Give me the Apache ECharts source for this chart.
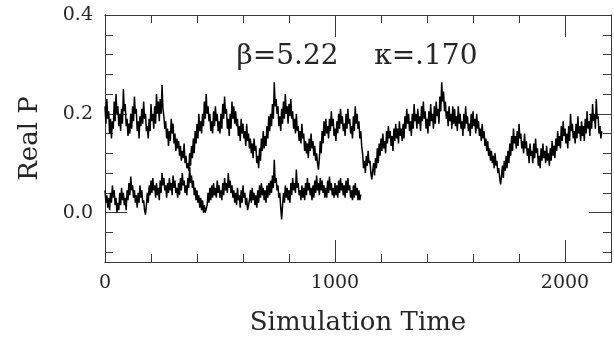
<!DOCTYPE html>
<html>
<head>
<meta charset="utf-8">
<script src="https://cdn.jsdelivr.net/npm/echarts@6/dist/echarts.min.js"></script>
<style>
  html, body { margin: 0; padding: 0; background: #fff; }
  #chart { width: 614px; height: 341px; }
</style>
</head>
<body>
<div id="chart"></div>
<script>
// sampling step of the simulation time (units)
var STEP = 4;

var xLabelTicks = [0, 1000, 2000];
var yLabelTicks = [0, 0.2, 0.4];
var yMinorTicks = [-0.08, -0.04, 0.04, 0.08, 0.12, 0.16, 0.24, 0.28, 0.32, 0.36];

// upper run, t = 0 .. 2160
var upperP = [
  .215, .18, .23, .19, .205, .16, .19, .15, .185, .17, .225, .185, .24, .2, .215, .175, .2, .165, .21, .18,
  .25, .205, .22, .175, .19, .155, .18, .16, .2, .17, .215, .185, .235, .2, .21, .165, .185, .15, .195, .175,
  .21, .18, .225, .19, .2, .165, .175, .15, .19, .165, .22, .185, .2, .17, .215, .18, .24, .2, .225, .185,
  .23, .2, .258, .21, .195, .17, .185, .15, .17, .135, .165, .145, .19, .16, .18, .14, .16, .125, .15, .13,
  .145, .115, .135, .105, .125, .11, .14, .1, .115, .09, .1, .085, .12, .095, .135, .11, .15, .12, .165, .14,
  .18, .15, .2, .165, .185, .16, .2, .175, .225, .19, .24, .2, .215, .185, .2, .165, .185, .16, .205, .175,
  .215, .185, .2, .165, .185, .16, .2, .17, .22, .19, .235, .2, .21, .17, .19, .155, .2, .17, .225, .19,
  .215, .18, .205, .175, .19, .155, .175, .145, .19, .16, .18, .15, .165, .135, .18, .145, .16, .13, .15, .12,
  .14, .11, .15, .125, .135, .1, .115, .09, .13, .105, .15, .125, .165, .13, .155, .135, .175, .15, .195, .165,
  .2, .175, .22, .19, .264, .215, .23, .2, .215, .175, .195, .165, .21, .18, .225, .19, .24, .2, .215, .18,
  .22, .195, .23, .19, .205, .17, .19, .16, .2, .165, .175, .145, .165, .14, .18, .15, .16, .125, .145, .12,
  .14, .11, .15, .125, .16, .13, .145, .115, .135, .105, .12, .1, .087, .11, .145, .12, .165, .14, .185, .155,
  .19, .16, .175, .15, .19, .165, .205, .175, .19, .155, .17, .145, .185, .16, .2, .17, .21, .18, .195, .165,
  .18, .155, .2, .17, .21, .18, .19, .16, .175, .15, .195, .165, .215, .18, .2, .17, .185, .15, .165, .135,
  .12, .09, .105, .08, .115, .095, .125, .1, .105, .08, .067, .085, .1, .075, .11, .09, .13, .1, .14, .115,
  .15, .125, .16, .13, .145, .12, .165, .14, .175, .15, .165, .135, .155, .125, .17, .145, .18, .15, .17, .14,
  .185, .155, .17, .145, .18, .15, .195, .17, .21, .18, .2, .165, .185, .155, .2, .17, .22, .185, .2, .17,
  .21, .18, .195, .165, .215, .185, .225, .19, .205, .17, .19, .16, .205, .175, .22, .185, .2, .17, .215, .18,
  .225, .195, .21, .18, .235, .205, .264, .225, .245, .205, .225, .19, .205, .175, .215, .185, .2, .17, .215, .18,
  .21, .175, .195, .165, .215, .18, .2, .17, .185, .155, .2, .17, .215, .18, .195, .165, .18, .155, .2, .17,
  .205, .175, .19, .16, .2, .17, .185, .155, .17, .145, .18, .15, .165, .135, .15, .125, .145, .115, .13, .105,
  .125, .1, .115, .09, .12, .095, .105, .08, .09, .07, .057, .075, .095, .07, .105, .085, .115, .09, .125, .1,
  .14, .115, .155, .125, .17, .14, .155, .13, .165, .135, .18, .15, .16, .13, .145, .12, .16, .13, .145, .115,
  .13, .1, .14, .115, .125, .1, .14, .11, .15, .12, .13, .095, .115, .09, .13, .105, .14, .11, .125, .1,
  .135, .105, .12, .095, .13, .105, .145, .115, .135, .11, .15, .125, .165, .135, .155, .13, .175, .145, .185, .155,
  .17, .14, .16, .13, .175, .145, .2, .165, .18, .15, .165, .14, .18, .15, .195, .16, .175, .145, .185, .155,
  .175, .145, .19, .16, .205, .17, .185, .155, .2, .17, .22, .185, .2, .17, .23, .19, .195, .16, .175, .15,
  .165
];

// lower run, t = 0 .. 1112
var lowerP = [
  .045, .02, .035, .01, .03, .005, .04, .02, .055, .03, .045, .015, .03, .0, .02, .005, .04, .015, .05, .025,
  .04, .015, .03, .005, .045, .025, .06, .035, .073, .045, .055, .03, .045, .02, .035, .01, .04, .02, .055, .03,
  .045, .02, .025, .005, -.004, .015, .04, .02, .055, .035, .065, .04, .07, .045, .055, .03, .06, .035, .05, .025,
  .065, .04, .08, .055, .07, .045, .055, .03, .06, .04, .07, .045, .06, .035, .075, .05, .065, .04, .05, .03,
  .06, .035, .07, .045, .08, .055, .065, .04, .055, .035, .07, .05, .093, .06, .075, .05, .065, .035, .05, .025,
  .045, .02, .035, .01, .03, .005, .025, .0, .015, .0, -.004, .015, .04, .02, .05, .025, .055, .03, .06, .035,
  .05, .03, .065, .04, .055, .03, .045, .025, .06, .035, .07, .045, .06, .04, .08, .05, .065, .04, .055, .03,
  .045, .02, .04, .015, .05, .025, .035, .01, .045, .02, .055, .03, .04, .015, .03, .005, .015, .025, .045, .02,
  .05, .025, .04, .015, .035, .01, .045, .02, .055, .03, .06, .035, .05, .025, .045, .02, .055, .03, .06, .035,
  .065, .04, .075, .05, .107, .06, .07, .045, .055, .03, .04, .01, -.014, .015, .04, .02, .055, .03, .05, .025,
  .045, .02, .06, .035, .07, .045, .06, .04, .087, .05, .06, .035, .045, .025, .055, .03, .05, .025, .06, .035,
  .07, .045, .06, .035, .05, .025, .055, .03, .065, .04, .075, .045, .06, .035, .07, .045, .065, .04, .055, .03,
  .05, .03, .065, .04, .073, .045, .06, .035, .05, .03, .06, .035, .055, .03, .065, .04, .07, .045, .06, .035,
  .055, .03, .065, .04, .07, .045, .055, .03, .045, .025, .055, .03, .06, .035, .05, .025, .045, .025, .037
];

var FONT = 'DejaVu Serif';
var INK = '#262626';
var frame = { color: '#3a3a3a', width: 1 };

function toPairs(vals) {
  return vals.map(function (v, i) { return [i * STEP, v]; });
}

function xAxisDef(pos, interval, tickLen, withLabels) {
  return {
    type: 'value', position: pos, min: 0, max: 2200, interval: interval,
    axisLine: { show: true, onZero: false, lineStyle: frame },
    axisTick: { show: true, inside: true, length: tickLen, lineStyle: frame },
    axisLabel: withLabels ? {
      show: true, margin: 12, fontFamily: FONT, fontSize: 19, color: INK,
      formatter: function (v) { return xLabelTicks.indexOf(v) >= 0 ? String(v) : ''; }
    } : { show: false },
    splitLine: { show: false }
  };
}

function yAxisDef(pos, ticks, tickLen, withLabels) {
  var a = {
    type: 'value', position: pos, min: -0.1, max: 0.4,
    axisLine: { show: true, onZero: false, lineStyle: frame },
    axisTick: { show: true, inside: true, length: tickLen, lineStyle: frame, customValues: ticks },
    axisLabel: { show: false },
    splitLine: { show: false }
  };
  if (withLabels) {
    a.axisLabel = {
      show: true, margin: 12, fontFamily: FONT, fontSize: 19, color: INK,
      customValues: yLabelTicks,
      formatter: function (v) { return v.toFixed(1); }
    };
    a.name = 'Real P';
    a.nameLocation = 'middle';
    a.nameRotate = 90;
    a.nameGap = 62;
    a.nameTextStyle = { fontFamily: FONT, fontSize: 26, color: INK };
  }
  return a;
}

var chart = echarts.init(document.getElementById('chart'), null, { renderer: 'canvas' });

var xMain = xAxisDef('bottom', 200, 8, true);
xMain.name = 'Simulation Time';
xMain.nameLocation = 'middle';
xMain.nameGap = 48;
xMain.nameTextStyle = { fontFamily: FONT, fontSize: 26, color: INK };

chart.setOption({
  animation: false,
  backgroundColor: '#fff',
  grid: { left: 105, top: 15, width: 506, height: 247 },
  xAxis: [
    xMain,
    xAxisDef('bottom', 1000, 22, false),
    xAxisDef('top', 200, 8, false),
    xAxisDef('top', 1000, 22, false)
  ],
  yAxis: [
    yAxisDef('left', yMinorTicks, 8, true),
    yAxisDef('left', yLabelTicks, 22, false),
    yAxisDef('right', yMinorTicks, 8, false),
    yAxisDef('right', yLabelTicks, 22, false)
  ],
  graphic: [{
    type: 'text', x: 357, y: 57,
    style: {
      text: 'β=5.22    κ=.170', fontFamily: FONT, fontSize: 28, fill: INK,
      align: 'center', verticalAlign: 'middle'
    }
  }],
  series: [
    {
      type: 'line', data: toPairs(upperP), showSymbol: false, sampling: null,
      lineStyle: { color: '#000', width: 1.5 }, silent: true
    },
    {
      type: 'line', data: toPairs(lowerP), showSymbol: false, sampling: null,
      lineStyle: { color: '#000', width: 1.5 }, silent: true
    }
  ]
});
</script>
</body>
</html>
